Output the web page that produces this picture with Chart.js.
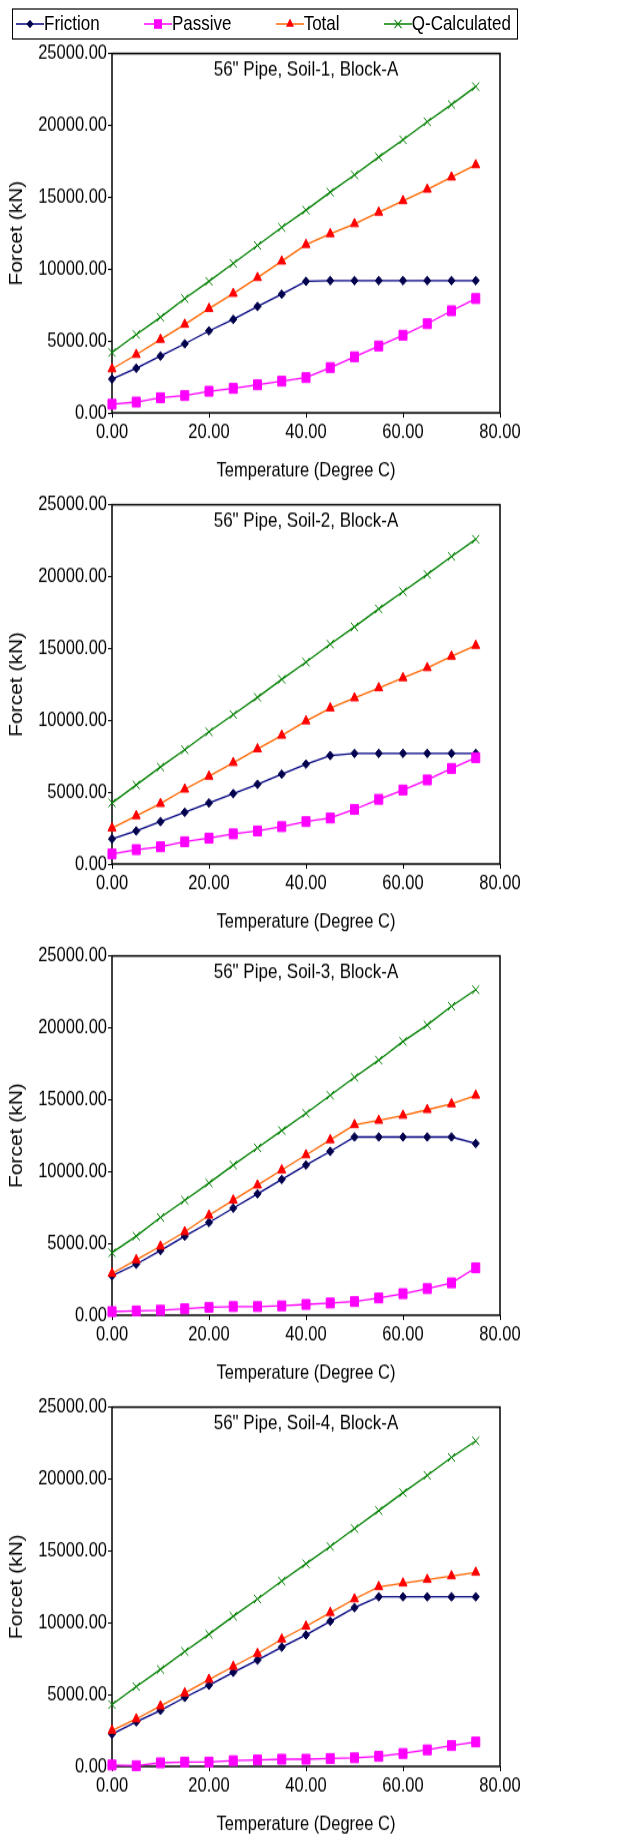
<!DOCTYPE html>
<html>
<head>
<meta charset="utf-8">
<script src="https://cdn.jsdelivr.net/npm/chart.js@4.4.0/dist/chart.umd.min.js"></script>
<style>
  html, body { margin: 0; padding: 0; background: #fff; overflow: hidden; }
  body { width: 621px; height: 1836px; position: relative; font-family: "Liberation Sans", Arial, sans-serif; color: #000; }
  /* the original picture is stretched vertically, so is this page */
  #page { position: absolute; left: 0; top: 0; width: 621px; height: 1530px; transform: scaleY(1.2); transform-origin: 0 0; }
  #legend { position: absolute; left: 12px; top: 7px; width: 506px; height: 26px; box-sizing: border-box;
            border: 1.5px solid #000; display: flex; align-items: center; justify-content: space-between;
            padding: 0 6px 0 3px; font-size: 17px; }
  .item { display: flex; align-items: center; white-space: nowrap; }
  .block { position: absolute; left: 0; width: 621px; height: 376px; }
</style>
</head>
<body>
<div id="page">
  <div id="legend"></div>
</div>
<script>
const temps = [0, 5, 10, 15, 20, 25, 30, 35, 40, 45, 50, 55, 60, 65, 70, 75];

const seriesNames = ["Friction", "Passive", "Total", "Q-Calculated"];
const lineColors = ["#000080", "#FF00FF", "#FF6600", "#008000"];
const markerColors = ["#00004d", "#FF00FF", "#FF0000", "#008000"];
const markerStyles = ["rectRot", "rect", "triangle", "crossRot"];
const markerRadius = [3.6, 5.7, 4.6, 5];

const titles = [
  '56" Pipe, Soil-1, Block-A',
  '56" Pipe, Soil-2, Block-A',
  '56" Pipe, Soil-3, Block-A',
  '56" Pipe, Soil-4, Block-A',
];

// Soil-1
const friction1 = [2350, 3100, 3950, 4800, 5700, 6500, 7400, 8250, 9150, 9200, 9200, 9200, 9200, 9200, 9200, 9200];
const passive1 = [600, 750, 1050, 1200, 1500, 1700, 1950, 2200, 2450, 3150, 3900, 4650, 5400, 6200, 7100, 7950];
const total1 = [3050, 4050, 5100, 6150, 7250, 8300, 9400, 10550, 11700, 12450, 13150, 13950, 14750, 15550, 16400, 17250];
const qcalc1 = [4200, 5450, 6650, 7950, 9150, 10400, 11650, 12900, 14100, 15350, 16550, 17800, 19000, 20250, 21450, 22700];

// Soil-2
const friction2 = [1750, 2300, 2950, 3600, 4250, 4900, 5550, 6250, 6950, 7550, 7700, 7700, 7700, 7700, 7700, 7700];
const passive2 = [700, 1000, 1200, 1550, 1800, 2100, 2300, 2600, 2950, 3200, 3800, 4500, 5150, 5850, 6650, 7400];
const total2 = [2500, 3350, 4200, 5200, 6100, 7050, 8000, 8950, 9950, 10850, 11550, 12250, 12950, 13650, 14450, 15200];
const qcalc2 = [4250, 5500, 6750, 7950, 9200, 10400, 11600, 12850, 14050, 15300, 16500, 17750, 18950, 20150, 21400, 22600];

// Soil-3
const friction3 = [2750, 3550, 4500, 5500, 6450, 7450, 8450, 9450, 10450, 11400, 12400, 12400, 12400, 12400, 12400, 11950];
const passive3 = [250, 300, 350, 450, 550, 600, 600, 650, 750, 850, 950, 1200, 1500, 1850, 2250, 3300];
const total3 = [2900, 3850, 4800, 5800, 6950, 8000, 9050, 10100, 11150, 12200, 13250, 13550, 13900, 14300, 14700, 15300];
const qcalc3 = [4350, 5500, 6800, 8000, 9200, 10450, 11650, 12850, 14050, 15300, 16550, 17750, 19050, 20200, 21500, 22650];

// Soil-4
const friction4 = [2250, 3100, 3900, 4800, 5650, 6550, 7400, 8300, 9150, 10100, 11050, 11800, 11800, 11800, 11800, 11800];
const passive4 = [100, 50, 250, 300, 300, 400, 450, 500, 500, 550, 600, 700, 900, 1150, 1450, 1700];
const total4 = [2500, 3300, 4200, 5100, 6050, 6950, 7850, 8850, 9750, 10700, 11650, 12500, 12750, 13000, 13250, 13500];
const qcalc4 = [4300, 5550, 6750, 8000, 9200, 10450, 11650, 12900, 14100, 15300, 16550, 17800, 19050, 20250, 21500, 22650];

const soils = [
  [friction1, passive1, total1, qcalc1],
  [friction2, passive2, total2, qcalc2],
  [friction3, passive3, total3, qcalc3],
  [friction4, passive4, total4, qcalc4],
];

Chart.defaults.font.family = '"Liberation Sans", Arial, sans-serif';
Chart.defaults.font.size = 16.5;
Chart.defaults.color = "#000";

// legend markers drawn as little svgs
function markerSvg(i) {
  const c = markerColors[i];
  let shape = "";
  if (markerStyles[i] === "rectRot") {
    shape = `<polygon points="14,3.4 17.6,7 14,10.6 10.4,7" fill="${c}"/>`;
  } else if (markerStyles[i] === "rect") {
    shape = `<rect x="10" y="3" width="8" height="8" fill="${c}"/>`;
  } else if (markerStyles[i] === "triangle") {
    shape = `<polygon points="14,2.4 18,9.3 10,9.3" fill="${c}"/>`;
  } else {
    shape = `<path d="M10.5 3.5 L17.5 10.5 M17.5 3.5 L10.5 10.5" stroke="${c}" stroke-width="1"/>`;
  }
  return `<svg width="28" height="14"><line x1="0" y1="7" x2="28" y2="7" stroke="${lineColors[i]}" stroke-width="1.3"/>${shape}</svg>`;
}

const legend = document.getElementById("legend");
seriesNames.forEach((name, i) => {
  const el = document.createElement("div");
  el.className = "item";
  el.innerHTML = markerSvg(i) + "<span>" + name + "</span>";
  legend.appendChild(el);
});

const frame = {
  id: "frame",
  beforeDatasetsDraw(chart) {
    const { ctx, chartArea: a } = chart;
    ctx.save();
    ctx.strokeStyle = "#000";
    ctx.lineWidth = 1.5;
    ctx.strokeRect(a.left, a.top, a.right - a.left, a.bottom - a.top);
    ctx.restore();
  },
};

const page = document.getElementById("page");

soils.forEach((rows, n) => {
  const block = document.createElement("div");
  block.className = "block";
  block.style.top = 30 + 376 * n + "px";
  const canvas = document.createElement("canvas");
  canvas.width = 621;
  canvas.height = 376;
  block.appendChild(canvas);
  page.appendChild(block);

  new Chart(canvas, {
    type: "line",
    data: {
      datasets: rows.map((vals, i) => ({
        label: seriesNames[i],
        data: temps.map((t, k) => ({ x: t, y: vals[k] })),
        borderColor: lineColors[i],
        backgroundColor: markerColors[i],
        pointBackgroundColor: markerColors[i],
        pointBorderColor: markerColors[i],
        pointStyle: markerStyles[i],
        pointRadius: markerRadius[i],
        pointBorderWidth: 1,
        borderWidth: 1.3,
        tension: 0,
        clip: false,
        order: 3 - i,
      })),
    },
    options: {
      responsive: false,
      animation: false,
      devicePixelRatio: 1,
      layout: { padding: { left: 0, right: 121, top: 0, bottom: 0 } },
      plugins: {
        legend: { display: false },
        tooltip: { enabled: false },
        title: {
          display: true,
          text: titles[n],
          fullSize: false,
          color: "#000",
          font: { size: 17, weight: "normal" },
          padding: { top: 18.3, bottom: -24.1 },
        },
      },
      scales: {
        x: {
          type: "linear",
          min: 0,
          max: 80,
          ticks: { stepSize: 20, padding: 3, maxRotation: 0, autoSkip: false, callback: (v) => v.toFixed(2) },
          grid: { drawOnChartArea: false, tickLength: 4, color: "#000" },
          border: { display: false },
          title: { display: true, text: "Temperature (Degree C)", padding: { top: 0, bottom: 4 } },
          afterFit: (s) => { s.height = 62; },
        },
        y: {
          min: 0,
          max: 25000,
          ticks: { stepSize: 5000, padding: 1, callback: (v) => v.toFixed(2) },
          grid: { drawOnChartArea: false, tickLength: 4, color: "#000" },
          border: { display: false },
          title: { display: true, text: "Forcet (kN)", font: { size: 17.5 }, padding: { top: 6.5, bottom: 0 } },
          afterFit: (s) => { s.width = 112; },
        },
      },
    },
    plugins: [frame],
  });
});
</script>
</body>
</html>
